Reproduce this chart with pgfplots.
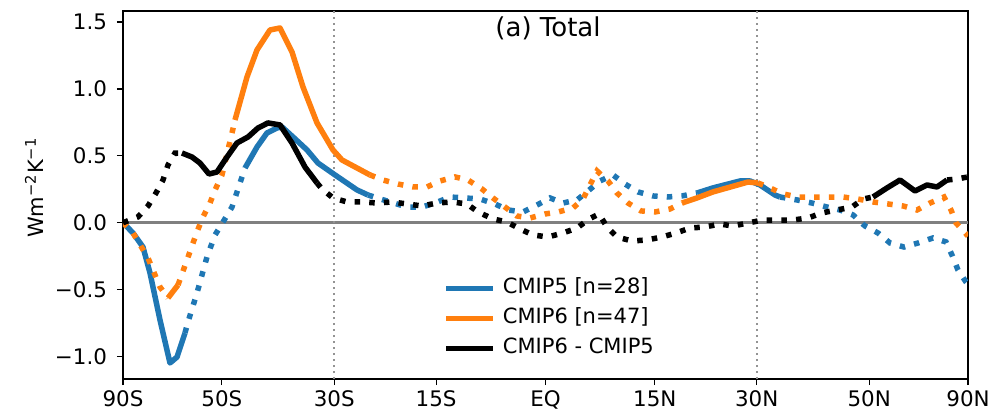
\documentclass[border=0pt]{standalone}
\usepackage{fontspec}
\setmainfont{DejaVu Sans}
\usepackage{pgfplots}
\pgfplotsset{compat=1.18}

\definecolor{tabblue}{HTML}{1F77B4}
\definecolor{taborange}{HTML}{FF7F0E}

\pgfplotsset{
  sig/.style={line width=2.75pt, line join=round, solid},
  ns/.style={line width=2.75pt, dash pattern=on 2.75pt off 4.6pt},
}

\begin{document}
\begin{tikzpicture}
\begin{axis}[
    name=main,
    scale only axis,
    width=422.5pt, height=184pt,
    xmin=-1, xmax=1,
    ymin=-1.169, ymax=1.583,
    xtick={-1,-0.766044,-0.5,-0.258819,0,0.258819,0.5,0.766044,1},
    xticklabels={90S,50S,30S,15S,EQ,15N,30N,50N,90N},
    ytick={-1,-0.5,0,0.5,1,1.5},
    yticklabels={−1.0,−0.5,0.0,0.5,1.0,1.5},
    tick pos=left,
    tick align=outside,
    major tick length=3pt,
    tick style={black, line width=0.6pt},
    axis line style={line width=0.6pt},
    ticklabel style={font=\fontsize{10.7}{12}\selectfont},
    xticklabel style={yshift=-1pt, inner sep=1.5pt},
    yticklabel style={xshift=-1.5pt},
    ylabel={Wm\textsuperscript{−2}K\textsuperscript{−1}},
    ylabel style={font=\fontsize{10.5}{12}\selectfont, at={(axis description cs:-0.105,0.52)}, anchor=center, rotate=0},
    unbounded coords=jump,
    clip=true,
    legend cell align=left,
    legend style={draw=none, fill=none, inner sep=0pt,
        at={(axis description cs:0.3787,0.2785)}, anchor=north west,
        font=\fontsize{10.5}{12}\selectfont, row sep=3.5pt,
        nodes={inner sep=1pt, text height=7.5pt, text depth=2pt},
        /tikz/every odd column/.append style={column sep=2.5pt}},
    legend image code/.code={\draw[#1] (0pt,0pt) -- (23.5pt,0pt);},
]
% reference lines
\addplot[forget plot, gray, line width=1.35pt] coordinates {(-1,0) (1,0)};
\addplot[forget plot, gray!85, line width=1.1pt, dash pattern=on 1.2pt off 1.8pt] coordinates {(-0.5,-1.169) (-0.5,1.583)};
\addplot[forget plot, gray!85, line width=1.1pt, dash pattern=on 1.2pt off 1.8pt] coordinates {(0.5,-1.169) (0.5,1.583)};

% CMIP5
\addplot[forget plot, tabblue, sig] coordinates {
(-1,0) (-0.9763,-0.077) (-0.9527,-0.182) (-0.9361,-0.376) (-0.9124,-0.728) (-0.8888,-1.049) (-0.8722,-1.005) (-0.8533,-0.825)
(-0.80,nan)
(-0.7112,0.409) (-0.6828,0.566) (-0.6592,0.671) (-0.6355,0.708) (-0.6237,0.716) (-0.5976,0.641) (-0.5645,0.544) (-0.5385,0.446) (-0.4982,0.357) (-0.4462,0.245) (-0.4201,0.207)
(0,nan)
(0.3586,0.222) (0.3964,0.260) (0.4604,0.312) (0.4840,0.312) (0.5077,0.282) (0.5432,0.207) (0.5550,0.192)
};
\addplot[forget plot, tabblue, ns] coordinates {
(-0.8533,-0.825) (-0.8462,-0.743) (-0.8249,-0.526) (-0.8012,-0.256) (-0.7822,-0.092) (-0.7633,0.005) (-0.7420,0.117) (-0.7231,0.297) (-0.7112,0.409)
(-0.6,nan)
(-0.4201,0.207) (-0.3988,0.185) (-0.3278,0.117) (-0.2923,0.117) (-0.2615,0.147) (-0.2260,0.192) (-0.1905,0.185) (-0.1550,0.177) (-0.1195,0.140) (-0.0888,0.095) (-0.0533,0.080) (-0.0201,0.132) (0.0107,0.185) (0.0414,0.147) (0.0746,0.170) (0.1006,0.237) (0.1290,0.312) (0.1598,0.357) (0.1882,0.289) (0.2189,0.230) (0.2544,0.200) (0.2876,0.192) (0.3231,0.200) (0.3586,0.222)
(0.45,nan)
(0.5550,0.192) (0.5953,0.170) (0.6308,0.147) (0.6663,0.117) (0.6970,0.095) (0.7278,0.058) (0.7562,-0.025) (0.7870,-0.077) (0.8154,-0.152) (0.8485,-0.182) (0.8817,-0.152) (0.9172,-0.114) (0.9479,-0.144) (0.9621,-0.242) (0.9763,-0.354) (0.9953,-0.444) (1,-0.46)
};

% CMIP6
\addplot[forget plot, taborange, ns] coordinates {
(-1,0) (-0.9763,-0.077) (-0.9408,-0.264) (-0.9124,-0.481) (-0.8935,-0.563)
(-0.88,nan)
(-0.8698,-0.466) (-0.8485,-0.279) (-0.8249,-0.069) (-0.8107,0.043) (-0.7941,0.147) (-0.7822,0.244) (-0.7657,0.357) (-0.7420,0.671) (-0.7349,0.768)
(-0.6,nan)
(-0.4154,0.357) (-0.3846,0.319) (-0.3491,0.289) (-0.3136,0.267) (-0.2805,0.267) (-0.2497,0.312) (-0.2142,0.342) (-0.1834,0.319) (-0.1503,0.252) (-0.1243,0.185) (-0.0959,0.117) (-0.0675,0.050) (-0.0367,0.035) (-0.0012,0.065) (0.0296,0.080) (0.0651,0.110) (0.0888,0.177) (0.1053,0.282) (0.1219,0.387) (0.1479,0.312) (0.1692,0.222) (0.1953,0.147) (0.2260,0.088) (0.2592,0.080) (0.2947,0.102) (0.3231,0.147)
(0.4,nan)
(0.5030,0.297) (0.5314,0.260) (0.5621,0.215) (0.5976,0.192) (0.6331,0.192) (0.6686,0.192) (0.7041,0.192) (0.7396,0.177) (0.7751,0.155) (0.8107,0.140) (0.8462,0.125) (0.8793,0.095) (0.9101,0.147) (0.9432,0.192) (0.9598,0.095) (0.9716,-0.002) (1,-0.10)
};
\addplot[forget plot, taborange, sig] coordinates {
(-0.8935,-0.563) (-0.8698,-0.466)
(-0.8,nan)
(-0.7349,0.768) (-0.7065,1.090) (-0.6828,1.292) (-0.6521,1.441) (-0.6284,1.456) (-0.6000,1.277) (-0.5740,1.015) (-0.5408,0.746) (-0.5030,0.544) (-0.4817,0.469) (-0.4462,0.409) (-0.4154,0.357)
(0,nan)
(0.3231,0.147) (0.3586,0.185) (0.3964,0.230) (0.4793,0.304) (0.5030,0.297)
};

% CMIP6 - CMIP5
\addplot[forget plot, black, ns] coordinates {
(-1,0) (-0.9645,0.043) (-0.9408,0.125) (-0.9219,0.222) (-0.9053,0.319) (-0.8935,0.431) (-0.8769,0.521) (-0.8604,0.521)
(-0.7,nan)
(-0.5408,0.297) (-0.5290,0.252) (-0.5030,0.185) (-0.4698,0.155) (-0.4343,0.155) (-0.3988,0.147) (-0.3633,0.155) (-0.3278,0.140) (-0.2923,0.125) (-0.2568,0.147) (-0.2213,0.155) (-0.1858,0.140) (-0.1598,0.080) (-0.1243,0.028) (-0.0911,0.005) (-0.0604,-0.047) (-0.0296,-0.092) (0.0059,-0.107) (0.0414,-0.077) (0.0746,-0.040) (0.1030,0.028) (0.1266,0.065) (0.1456,-0.032) (0.1692,-0.107) (0.2047,-0.137) (0.2402,-0.129) (0.2757,-0.107) (0.3089,-0.077) (0.3420,-0.040) (0.3775,-0.032) (0.4130,-0.010) (0.4438,-0.025) (0.4793,-0.002) (0.5148,0.020) (0.5503,0.020) (0.5858,0.020) (0.6213,0.035) (0.6544,0.073) (0.6899,0.095) (0.7254,0.117) (0.7515,0.177) (0.7751,0.192)
(0.85,nan)
(0.9503,0.319) (0.9740,0.327) (1,0.342)
};
\addplot[forget plot, black, sig] coordinates {
(-0.8604,0.521) (-0.8367,0.491) (-0.8178,0.446) (-0.7964,0.364) (-0.7775,0.379) (-0.7538,0.491) (-0.7302,0.596) (-0.7041,0.641) (-0.6805,0.708) (-0.6568,0.746) (-0.6284,0.731) (-0.6000,0.596) (-0.5692,0.416) (-0.5408,0.297)
(0,nan)
(0.7751,0.192) (0.8083,0.260) (0.8391,0.319) (0.8746,0.237) (0.9030,0.282) (0.9266,0.267) (0.9503,0.319)
};

\addlegendimage{tabblue, sig}
\addlegendentry{CMIP5 [n=28]}
\addlegendimage{taborange, sig}
\addlegendentry{CMIP6 [n=47]}
\addlegendimage{black, sig}
\addlegendentry{CMIP6 - CMIP5}

\node[anchor=base, font=\fontsize{13}{15}\selectfont] at (axis description cs:0.503,0.932) {(a) Total};
\end{axis}
\pgfresetboundingbox
\path (main.south west) ++(-61.5pt,-17pt) rectangle ++(502pt,206.5pt);
\end{tikzpicture}
\end{document}
